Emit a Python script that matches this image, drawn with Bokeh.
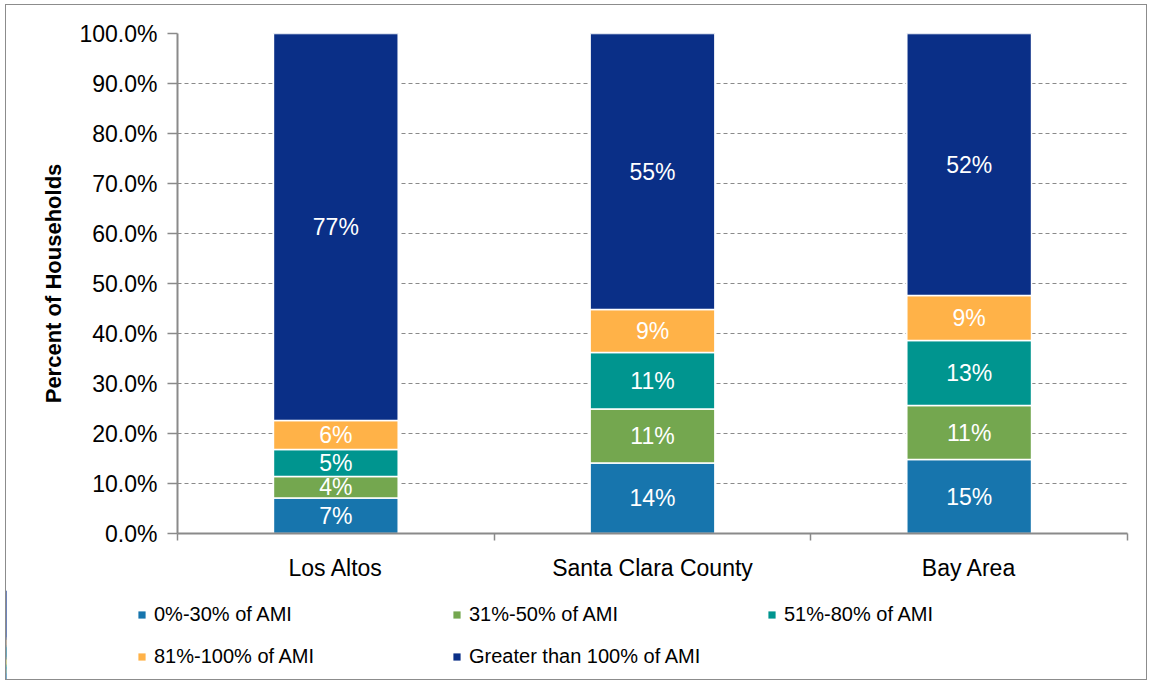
from bokeh.plotting import figure
from bokeh.layouts import column
from bokeh.models import (ColumnDataSource, Range1d, FixedTicker, PrintfTickFormatter,
                          Legend, LegendItem, LabelSet)
from bokeh.core.properties import value
from bokeh.embed import file_html
from bokeh.resources import INLINE

categories = ["Los Altos", "Santa Clara County", "Bay Area"]
series = ["0%-30% of AMI", "31%-50% of AMI", "51%-80% of AMI",
          "81%-100% of AMI", "Greater than 100% of AMI"]
ami_0_30 = [7.1, 14.1, 14.8]
ami_31_50 = [4.3, 10.8, 10.8]
ami_51_80 = [5.4, 11.3, 13.0]
ami_81_100 = [5.8, 8.6, 9.0]
ami_over_100 = [77.4, 55.2, 52.4]
y_ticks = [0, 10, 20, 30, 40, 50, 60, 70, 80, 90, 100]

colors = ["#1775AD", "#74A74F", "#00958F", "#FFB248", "#0A2F87"]
values = [ami_0_30, ami_31_50, ami_51_80, ami_81_100, ami_over_100]
keys = ["s0", "s1", "s2", "s3", "s4"]

FONT = "Liberation Sans"
AXIS_GRAY = "#8a8a8a"

xpos = [i + 0.5 for i in range(len(categories))]
data = {"x": xpos}
for k, v in zip(keys, values):
    data[k] = v
source = ColumnDataSource(data)

W = 1140
p = figure(width=W, height=585, x_range=Range1d(0, len(categories)),
           y_range=Range1d(0, 100), output_backend="svg", toolbar_location=None,
           min_border_left=171, min_border_top=28, min_border_right=19,
           min_border_bottom=57)
p.frame_align = False
p.outline_line_color = None
p.background_fill_color = "white"

p.vbar_stack(keys, x="x", width=0.394, source=source, color=colors,
             line_color="white", line_width=1.5)

# labels at segment midpoints
lx, ly, lt = [], [], []
for i in range(len(categories)):
    base = 0.0
    for v in values:
        val = v[i]
        lx.append(xpos[i])
        ly.append(base + val / 2)
        lt.append(f"{round(val)}%")
        base += val
lab_src = ColumnDataSource(dict(x=lx, y=ly, t=lt))
labels = LabelSet(x="x", y="y", text="t", source=lab_src, text_align="center",
                  text_baseline="middle", text_color="white",
                  text_font=value(FONT), text_font_size="23px")
p.add_layout(labels)

# y axis
p.yaxis.ticker = FixedTicker(ticks=y_ticks)
p.yaxis.formatter = PrintfTickFormatter(format="%.1f%%")
p.yaxis.major_label_text_font = FONT
p.yaxis.major_label_text_font_size = "23px"
p.yaxis.major_label_text_color = "black"
p.yaxis.axis_line_color = AXIS_GRAY
p.yaxis.axis_line_width = 2
p.yaxis.major_tick_line_color = AXIS_GRAY
p.yaxis.major_tick_line_width = 1.5
p.yaxis.major_tick_out = 10
p.yaxis.major_tick_in = 0
p.yaxis.minor_tick_line_color = None
p.yaxis.major_label_standoff = 10
p.yaxis.axis_label = "Percent of Households"
p.yaxis.axis_label_text_font = FONT
p.yaxis.axis_label_text_font_size = "22px"
p.yaxis.axis_label_text_font_style = "bold"
p.yaxis.axis_label_text_color = "black"
p.yaxis.axis_label_standoff = 10

# x axis
p.xaxis.ticker = FixedTicker(ticks=xpos, minor_ticks=list(range(len(categories) + 1)))
p.xaxis.major_label_overrides = {x: c for x, c in zip(xpos, categories)}
p.xaxis.major_label_text_font = FONT
p.xaxis.major_label_text_font_size = "23px"
p.xaxis.major_label_text_color = "black"
p.xaxis.axis_line_color = AXIS_GRAY
p.xaxis.axis_line_width = 2
p.xaxis.major_tick_line_color = None
p.xaxis.major_tick_out = 0
p.xaxis.major_tick_in = 0
p.xaxis.minor_tick_line_color = AXIS_GRAY
p.xaxis.minor_tick_line_width = 1.5
p.xaxis.minor_tick_out = 7
p.xaxis.minor_tick_in = 0
p.xaxis.major_label_standoff = 14

p.xgrid.grid_line_color = None
p.ygrid.ticker = FixedTicker(ticks=y_ticks)
p.ygrid.grid_line_color = AXIS_GRAY
p.ygrid.grid_line_dash = "4 3"
p.ygrid.grid_line_width = 1

# legend in its own strip below the chart (its bars are zero-width, off view)
pl = figure(width=W, height=89, x_range=Range1d(100, 101), y_range=Range1d(0, 100),
            output_backend="svg", toolbar_location=None, x_axis_type=None,
            y_axis_type=None, min_border=0)
pl.frame_align = False
pl.outline_line_color = None
pl.grid.grid_line_color = None
leg_renderers = pl.vbar_stack(keys, x="x", width=0.0, source=source, color=colors,
                              line_color=None)
items = [LegendItem(label=s, renderers=[r]) for s, r in zip(series, leg_renderers)]
legend = Legend(items=items, orientation="horizontal", ncols=3,
                label_text_font=FONT, label_text_font_size="20px",
                label_text_color="black", glyph_width=9, glyph_height=9,
                label_standoff=8, label_width=286, label_height=30, spacing=12,
                border_line_color=None, background_fill_alpha=0,
                location=(131, 8), margin=0, padding=0)
pl.add_layout(legend)

layout = column(p, pl, spacing=0)
layout.styles = {"border": "1.5px solid #8c8c8c", "margin-left": "5px",
                 "margin-top": "4px"}

open("out.html", "w").write(file_html(layout, INLINE))
